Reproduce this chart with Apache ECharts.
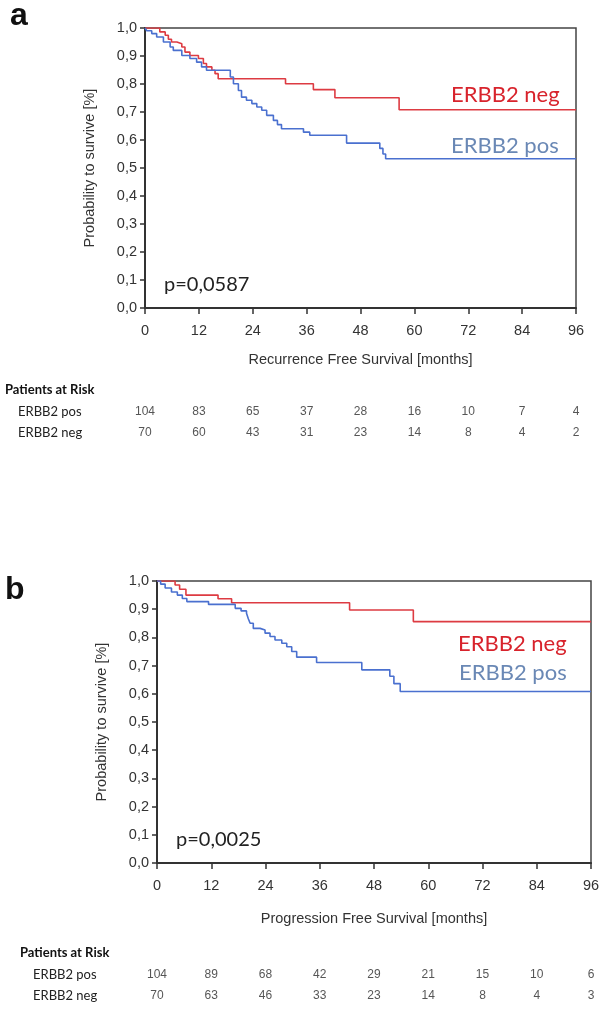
<!DOCTYPE html>
<html>
<head>
<meta charset="utf-8">
<script src="https://cdn.jsdelivr.net/npm/echarts@6/dist/echarts.min.js"></script>
<style>
  html, body { margin: 0; padding: 0; background: #fff; }
  #chart { width: 615px; height: 1015px; }
</style>
</head>
<body>
<div id="chart"></div>
<script>
// months for the x ticks / risk table columns
const months = [0, 12, 24, 36, 48, 60, 72, 84, 96];

// panel a - recurrence free survival (step points)
const negA_t = [0, 3.3, 4.5, 5.2, 5.9, 7.1, 8.2, 8.9, 10.0, 11.9, 13.0, 13.7, 14.9, 15.6, 16.3, 31.3, 37.5, 42.3, 56.6, 96];
const negA_s = [1.0, 0.986, 0.974, 0.960, 0.950, 0.944, 0.932, 0.914, 0.902, 0.891, 0.873, 0.861, 0.849, 0.837, 0.819, 0.801, 0.780, 0.751, 0.708, 0.708];
const posA_t = [0, 0.4, 1.5, 2.6, 4.1, 5.6, 6.3, 8.2, 10.0, 11.5, 12.6, 13.7, 19.0, 19.7, 20.8, 21.5, 22.6, 23.8, 24.9, 26.0, 27.1, 28.6, 29.5, 30.4, 35.3, 36.7, 44.9, 52.3, 53.0, 53.6, 96];
const posA_s = [1.0, 0.990, 0.980, 0.968, 0.950, 0.932, 0.920, 0.902, 0.891, 0.878, 0.861, 0.849, 0.825, 0.801, 0.777, 0.753, 0.742, 0.730, 0.718, 0.706, 0.688, 0.670, 0.655, 0.640, 0.628, 0.617, 0.589, 0.570, 0.550, 0.533, 0.533];

// panel b - progression free survival
const negB_t = [0, 4.0, 5.0, 6.4, 13.5, 16.5, 42.6, 56.7, 96];
const negB_s = [1.0, 0.986, 0.971, 0.950, 0.937, 0.923, 0.897, 0.856, 0.856];
const posB_t = [0, 0.8, 1.8, 3.2, 4.5, 5.6, 6.6, 11.4, 17.3, 18.6, 19.8, 20.2, 20.6, 21.3, 22.8, 23.9, 25.0, 26.1, 27.6, 28.7, 29.8, 30.9, 35.3, 45.3, 51.5, 52.4, 53.8, 96];
const posB_s = [1.0, 0.989, 0.975, 0.961, 0.950, 0.938, 0.927, 0.917, 0.903, 0.894, 0.886, 0.866, 0.850, 0.832, 0.826, 0.815, 0.803, 0.791, 0.779, 0.767, 0.750, 0.730, 0.711, 0.685, 0.662, 0.636, 0.608, 0.608];

// patients at risk
const riskRows = ['ERBB2 pos', 'ERBB2 neg'];
const riskA_pos = [104, 83, 65, 37, 28, 16, 10, 7, 4];
const riskA_neg = [70, 60, 43, 31, 23, 14, 8, 4, 2];
const riskB_pos = [104, 89, 68, 42, 29, 21, 15, 10, 6];
const riskB_neg = [70, 63, 46, 33, 23, 14, 8, 4, 3];

const RED = '#dd3b42';
const BLUE = '#4a70cf';
const AX = '#333';
const ARIAL = '"Liberation Sans", Arial, sans-serif';
const CALI = 'Lato, "Open Sans", sans-serif';

function pairs(t, s) {
  return t.map((v, i) => [v, s[i]]);
}
function riskData(pos, neg) {
  let out = [];
  months.forEach((m, i) => {
    out.push([m, 0, pos[i]]);
    out.push([m, 1, neg[i]]);
  });
  return out;
}

function plotX(idx, name, gap) {
  return {
    gridIndex: idx, type: 'value', min: 0, max: 96, interval: 12,
    name: name, nameLocation: 'middle', nameGap: gap,
    nameTextStyle: { fontFamily: ARIAL, fontSize: 14.5, color: AX },
    axisLine: { lineStyle: { color: AX, width: 2 } },
    axisTick: { length: 6, lineStyle: { color: AX, width: 1.5 } },
    axisLabel: { fontFamily: ARIAL, fontSize: 14.5, color: AX, margin: 15 },
    splitLine: { show: false }
  };
}
function plotY(idx, gap) {
  return {
    gridIndex: idx, type: 'value', min: 0, max: 1, interval: 0.1,
    name: 'Probability to survive [%]', nameLocation: 'middle', nameGap: gap,
    nameTextStyle: { fontFamily: ARIAL, fontSize: 14.5, color: AX },
    axisLine: { show: true, lineStyle: { color: AX, width: 2 } },
    axisTick: { show: true, length: 5, lineStyle: { color: AX, width: 1.5 } },
    axisLabel: {
      fontFamily: ARIAL, fontSize: 14.5, color: AX, margin: 8,
      formatter: v => v.toFixed(1).replace('.', ',')
    },
    splitLine: { show: false }
  };
}
function tableX(idx) {
  return { gridIndex: idx, type: 'value', min: 0, max: 96, show: false };
}
function tableY(idx, margin) {
  return {
    gridIndex: idx, type: 'category', data: riskRows, inverse: true,
    axisLine: { show: false }, axisTick: { show: false }, splitLine: { show: false },
    axisLabel: { align: 'left', margin: margin, fontFamily: CALI, fontSize: 13, color: '#222' }
  };
}
function kmLine(idx, data, color) {
  return {
    type: 'line', xAxisIndex: idx, yAxisIndex: idx, step: 'end', data: data,
    symbol: 'none', lineStyle: { color: color, width: 1.6 }, silent: true
  };
}
function riskSeries(idx, data) {
  return {
    type: 'scatter', xAxisIndex: idx, yAxisIndex: idx, data: data,
    symbolSize: 1, itemStyle: { color: 'rgba(0,0,0,0)' }, silent: true,
    label: {
      show: true, position: 'inside', formatter: p => p.value[2],
      fontFamily: ARIAL, fontSize: 12, color: '#2a2a2a'
    }
  };
}

let option = {
  animation: false,
  backgroundColor: '#fff',
  grid: [
    { left: 145, top: 28, width: 431, height: 280, show: true, borderColor: '#444', borderWidth: 1.5 },
    { left: 145, top: 401, width: 431, height: 42 },
    { left: 157, top: 581, width: 434, height: 282, show: true, borderColor: '#444', borderWidth: 1.5 },
    { left: 157, top: 964, width: 434, height: 42 }
  ],
  xAxis: [
    plotX(0, 'Recurrence Free Survival [months]', 44),
    tableX(1),
    plotX(2, 'Progression Free Survival [months]', 48),
    tableX(3)
  ],
  yAxis: [
    plotY(0, 48),
    tableY(1, 127),
    plotY(2, 48),
    tableY(3, 124)
  ],
  series: [
    kmLine(0, pairs(negA_t, negA_s), RED),
    kmLine(0, pairs(posA_t, posA_s), BLUE),
    riskSeries(1, riskData(riskA_pos, riskA_neg)),
    kmLine(2, pairs(negB_t, negB_s), RED),
    kmLine(2, pairs(posB_t, posB_s), BLUE),
    riskSeries(3, riskData(riskB_pos, riskB_neg))
  ],
  graphic: [
    { type: 'text', left: 10, top: 0, style: { text: 'a', font: 'bold 32px ' + ARIAL, fill: '#111' } },
    { type: 'text', left: 5, top: 574, style: { text: 'b', font: 'bold 32px ' + ARIAL, fill: '#111' } },
    { type: 'text', x: 451, y: 95, style: { text: 'ERBB2 neg', font: '22px ' + CALI, fill: '#d8232c', verticalAlign: 'middle' } },
    { type: 'text', x: 451, y: 146, style: { text: 'ERBB2 pos', font: '22px ' + CALI, fill: '#6a88b5', verticalAlign: 'middle' } },
    { type: 'text', x: 458, y: 644, style: { text: 'ERBB2 neg', font: '22px ' + CALI, fill: '#d8232c', verticalAlign: 'middle' } },
    { type: 'text', x: 459, y: 673, style: { text: 'ERBB2 pos', font: '22px ' + CALI, fill: '#6a88b5', verticalAlign: 'middle' } },
    { type: 'text', x: 164, y: 285, style: { text: 'p=0,0587', font: '20px ' + CALI, fill: '#222', verticalAlign: 'middle' } },
    { type: 'text', x: 176, y: 840, style: { text: 'p=0,0025', font: '20px ' + CALI, fill: '#222', verticalAlign: 'middle' } },
    { type: 'text', x: 5, y: 390, style: { text: 'Patients at Risk', font: 'bold 13px ' + CALI, fill: '#111', verticalAlign: 'middle' } },
    { type: 'text', x: 20, y: 953, style: { text: 'Patients at Risk', font: 'bold 13px ' + CALI, fill: '#111', verticalAlign: 'middle' } }
  ]
};

let myChart = echarts.init(document.getElementById('chart'));
myChart.setOption(option);
</script>
</body>
</html>
